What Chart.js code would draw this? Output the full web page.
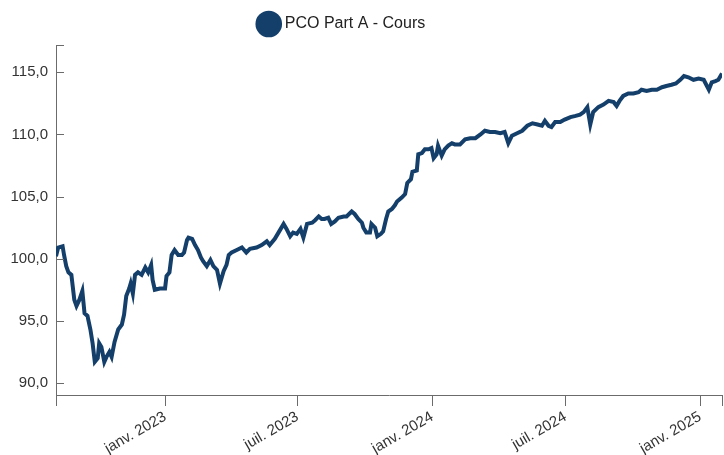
<!DOCTYPE html>
<html lang="fr">
<head>
<meta charset="utf-8">
<title>PCO Part A - Cours</title>
<script src="https://cdn.jsdelivr.net/npm/chart.js@4.4.1/dist/chart.umd.min.js"></script>
<style>
  html, body { margin: 0; padding: 0; background: #fff; }
  #wrap { width: 724px; height: 455px; }
</style>
</head>
<body>
<div id="wrap"><canvas id="cours" width="724" height="455"></canvas></div>
<script>
const seriesLabel = "PCO Part A - Cours";

const dates = [
  "2022-08-05","2022-08-08","2022-08-14","2022-08-16","2022-08-19","2022-08-22","2022-08-26","2022-08-30",
  "2022-09-02","2022-09-06","2022-09-10","2022-09-13","2022-09-17","2022-09-21","2022-09-24","2022-09-27",
  "2022-10-01","2022-10-03","2022-10-06","2022-10-10","2022-10-13","2022-10-17","2022-10-20","2022-10-24",
  "2022-10-29","2022-11-03","2022-11-06","2022-11-09","2022-11-13","2022-11-15","2022-11-18","2022-11-21",
  "2022-11-25","2022-11-30","2022-12-05","2022-12-09","2022-12-13","2022-12-15","2022-12-18","2022-12-25",
  "2023-01-01","2023-01-03","2023-01-07","2023-01-10","2023-01-14","2023-01-19","2023-01-24","2023-01-27",
  "2023-01-31","2023-02-02","2023-02-07","2023-02-11","2023-02-15","2023-02-19","2023-02-22","2023-02-27",
  "2023-03-04","2023-03-08","2023-03-13","2023-03-17","2023-03-22","2023-03-26","2023-03-29","2023-04-02",
  "2023-04-09","2023-04-16","2023-04-22","2023-04-27","2023-05-06","2023-05-13","2023-05-20","2023-05-24",
  "2023-05-31","2023-06-05","2023-06-12","2023-06-16","2023-06-21","2023-06-25","2023-06-30","2023-07-05",
  "2023-07-09","2023-07-14","2023-07-21","2023-07-25","2023-07-30","2023-08-03","2023-08-07","2023-08-12",
  "2023-08-16","2023-08-21","2023-08-26","2023-09-02","2023-09-06","2023-09-13","2023-09-17","2023-09-22",
  "2023-09-27","2023-09-29","2023-10-03","2023-10-08","2023-10-10","2023-10-15","2023-10-18","2023-10-23",
  "2023-10-26","2023-10-30","2023-11-02","2023-11-07","2023-11-11","2023-11-14","2023-11-20","2023-11-25",
  "2023-11-28","2023-12-03","2023-12-05","2023-12-11","2023-12-13","2023-12-18","2023-12-22","2023-12-27",
  "2023-12-31","2024-01-03","2024-01-07","2024-01-09","2024-01-14","2024-01-18","2024-01-23","2024-01-28",
  "2024-02-01","2024-02-08","2024-02-15","2024-02-22","2024-02-29","2024-03-07","2024-03-13","2024-03-20",
  "2024-03-27","2024-04-03","2024-04-09","2024-04-14","2024-04-19","2024-04-26","2024-05-03","2024-05-10",
  "2024-05-17","2024-05-24","2024-05-30","2024-06-03","2024-06-08","2024-06-12","2024-06-17","2024-06-24",
  "2024-06-30","2024-07-08","2024-07-15","2024-07-21","2024-07-26","2024-07-31","2024-08-04","2024-08-08",
  "2024-08-15","2024-08-22","2024-08-29","2024-09-05","2024-09-09","2024-09-13","2024-09-18","2024-09-25",
  "2024-10-02","2024-10-09","2024-10-13","2024-10-20","2024-10-27","2024-11-03","2024-11-10","2024-11-16",
  "2024-11-23","2024-11-29","2024-12-05","2024-12-10","2024-12-16","2024-12-23","2024-12-30","2025-01-06",
  "2025-01-13","2025-01-17","2025-01-22","2025-01-26","2025-01-31"
];

const cours = [
  100.2,100.9,101.0,100.3,99.4,98.9,98.7,96.7,
  96.2,96.7,97.4,95.6,95.4,94.3,93.2,91.7,
  92.0,93.2,92.9,91.7,92.1,92.5,92.1,93.3,
  94.3,94.7,95.5,97.0,97.6,98.0,97.2,98.7,
  98.9,98.7,99.3,98.9,99.5,98.3,97.5,97.6,
  97.6,98.6,98.9,100.3,100.7,100.3,100.3,100.5,
  101.5,101.7,101.6,101.1,100.7,100.1,99.8,99.4,
  99.9,99.4,99.1,98.0,99.0,99.5,100.3,100.5,
  100.7,100.9,100.5,100.8,100.9,101.1,101.4,101.1,
  101.6,102.1,102.8,102.4,101.8,102.1,102.0,102.4,
  101.7,102.8,102.9,103.1,103.4,103.2,103.2,103.3,
  102.8,103.0,103.3,103.4,103.4,103.8,103.6,103.2,
  102.9,102.5,102.1,102.1,102.8,102.5,101.8,102.0,
  102.2,103.2,103.8,104.0,104.3,104.6,104.9,105.2,
  106.1,106.4,107.0,107.1,108.4,108.5,108.8,108.8,
  108.9,108.1,108.4,109.1,108.3,108.8,109.1,109.3,
  109.2,109.2,109.6,109.7,109.7,110.0,110.3,110.2,
  110.2,110.1,110.2,109.3,109.9,110.1,110.3,110.7,
  110.9,110.8,110.7,111.1,110.7,110.6,111.0,111.0,
  111.2,111.4,111.5,111.6,111.8,112.2,110.8,111.8,
  112.2,112.4,112.7,112.6,112.3,112.7,113.1,113.3,
  113.3,113.4,113.6,113.5,113.6,113.6,113.8,113.9,
  114.0,114.1,114.4,114.7,114.6,114.4,114.5,114.4,
  113.6,114.2,114.3,114.4,114.9
];

const tickDates = ["2023-01-01", "2023-07-01", "2024-01-01", "2024-07-01", "2025-01-01"];
const tickLabels = ["janv. 2023", "juil. 2023", "janv. 2024", "juil. 2024", "janv. 2025"];
const yTicks = [90, 95, 100, 105, 110, 115];
const yMin = 89.03;
const yMax = 117.2;

const toTime = d => new Date(d + "T00:00:00Z").getTime();
const xMin = toTime(dates[0]);
const xMax = toTime(dates[dates.length - 1]);
const points = dates.map((d, i) => ({ x: toTime(d), y: cours[i] }));

const axisColor = "#6b6b6b";
const fontFamily = "'Liberation Sans', Arial, sans-serif";

// y ticks are drawn inside the plot, to the right of the axis line
const innerTicks = {
  id: "innerTicks",
  afterDraw(chart) {
    const s = chart.scales.y;
    const ctx = chart.ctx;
    ctx.save();
    ctx.strokeStyle = axisColor;
    ctx.lineWidth = 1;
    s.ticks.forEach(t => {
      const y = Math.round(s.getPixelForValue(t.value)) + 0.5;
      ctx.beginPath();
      ctx.moveTo(s.right, y);
      ctx.lineTo(s.right + 8, y);
      ctx.stroke();
    });
    ctx.restore();
  }
};

// legend: fixed height above the plot, nudged a little to the left
const legendBox = {
  id: "legendBox",
  beforeInit(chart) {
    const lg = chart.legend;
    if (!lg) return;
    const fit = lg.fit.bind(lg);
    lg.fit = function () {
      fit();
      this.height = 45;
    };
  },
  afterLayout(chart) {
    chart.legend.left -= 18;
    chart.legend.right -= 18;
  }
};

new Chart(document.getElementById("cours"), {
  type: "line",
  data: {
    datasets: [
      {
        label: seriesLabel,
        data: points,
        borderColor: "#143f6b",
        backgroundColor: "#143f6b",
        borderWidth: 4,
        pointRadius: 0,
        tension: 0,
        fill: false
      }
    ]
  },
  options: {
    responsive: false,
    animation: false,
    devicePixelRatio: 1,
    layout: { padding: { top: 0, right: 2, left: 0, bottom: 0 } },
    plugins: {
      legend: {
        position: "top",
        labels: {
          usePointStyle: true,
          pointStyle: "circle",
          padding: 16,
          color: "#222",
          font: { family: fontFamily, size: 16 }
        }
      },
      tooltip: { enabled: false }
    },
    scales: {
      x: {
        type: "linear",
        min: xMin,
        max: xMax,
        afterBuildTicks(scale) {
          const vals = [xMin].concat(tickDates.map(toTime), [xMax]);
          scale.ticks = vals.map(v => ({ value: v }));
        },
        afterFit(scale) {
          scale.height = 60;
          scale.paddingLeft = 0;
          scale.paddingRight = 0;
        },
        ticks: {
          autoSkip: false,
          minRotation: 30,
          maxRotation: 30,
          padding: 2,
          color: "#333",
          font: { family: fontFamily, size: 15 },
          callback(value) {
            const i = tickDates.map(toTime).indexOf(value);
            return i >= 0 ? tickLabels[i] : "";
          }
        },
        grid: {
          display: true,
          drawOnChartArea: false,
          drawTicks: true,
          tickLength: 11,
          color: axisColor
        },
        border: { display: true, color: axisColor, width: 1 }
      },
      y: {
        min: yMin,
        max: yMax,
        afterBuildTicks(scale) {
          const vals = [yMin].concat(yTicks, [yMax]);
          scale.ticks = vals.map(v => ({ value: v }));
        },
        afterFit(scale) {
          scale.width = 56;
          scale.paddingTop = 0;
          scale.paddingBottom = 0;
        },
        ticks: {
          padding: 8,
          color: "#333",
          font: { family: fontFamily, size: 15 },
          callback(value) {
            return yTicks.includes(value) ? value.toFixed(1).replace(".", ",") : "";
          }
        },
        grid: { display: false, drawTicks: false },
        border: { display: true, color: axisColor, width: 1 }
      }
    }
  },
  plugins: [innerTicks, legendBox]
});
</script>
</body>
</html>
